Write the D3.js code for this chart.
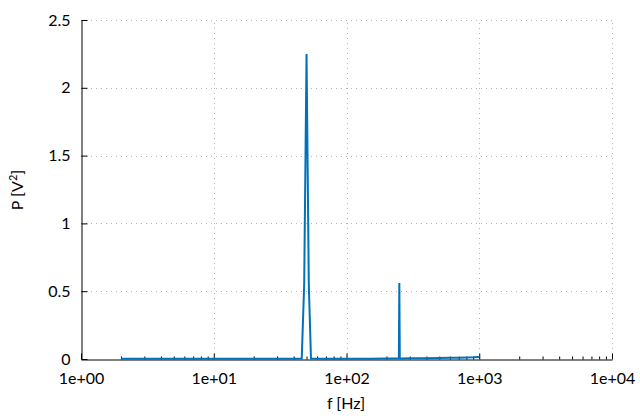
<!DOCTYPE html>
<html>
<head>
<meta charset="utf-8">
<script src="https://cdn.jsdelivr.net/npm/d3@7"></script>
<style>
  body { margin: 0; background: #fff; }
  svg { display: block; }
  text { font-family: Lato, "Open Sans", sans-serif; fill: #000; }
</style>
</head>
<body>
<svg id="chart" width="640" height="420"></svg>
<script>
// Data
const freq  = [2, 5, 10, 20, 30, 40, 46, 48, 50, 52, 54, 70, 100, 150, 200, 240, 248, 250, 252, 260, 300, 400, 500, 600, 700, 800, 900, 1000];
const power = [0.002, 0.001, 0.001, 0.001, 0.001, 0.002, 0.004, 0.55, 2.25, 0.55, 0.004, 0.002, 0.002, 0.002, 0.003, 0.003, 0.004, 0.56, 0.004, 0.004, 0.005, 0.006, 0.008, 0.009, 0.010, 0.011, 0.012, 0.014];
const xTickValues = [1, 10, 100, 1000, 10000];
const xTickLabels = ["1e+00", "1e+01", "1e+02", "1e+03", "1e+04"];
const yTickValues = [0, 0.5, 1, 1.5, 2, 2.5];
const yTickLabels = ["0", "0.5", "1", "1.5", "2", "2.5"];
const xLabel = "f [Hz]";

const svg = d3.select("#chart");
const m = {left: 81, right: 612, top: 20, bottom: 359};

const x = d3.scaleLog().domain([1, 10000]).range([m.left, m.right]);
const y = d3.scaleLinear().domain([0, 2.5]).range([m.bottom, m.top]);

// grid
const grid = svg.append("g").attr("stroke", "#b4b4b4").attr("stroke-width", 1).attr("stroke-dasharray", "1,4");
yTickValues.slice(1).forEach(v => {
  grid.append("line").attr("x1", m.left).attr("x2", m.right)
    .attr("y1", Math.round(y(v)) + 0.5).attr("y2", Math.round(y(v)) + 0.5);
});
xTickValues.slice(1).forEach(v => {
  grid.append("line").attr("y1", m.bottom).attr("y2", m.top)
    .attr("x1", Math.round(x(v)) + 0.5).attr("x2", Math.round(x(v)) + 0.5);
});

// minor x ticks
const minor = [];
for (let d = 1; d < 10000; d *= 10) for (let k = 2; k <= 9; k++) minor.push(d * k);

// axes
const xAxis = d3.axisBottom(x).tickValues(xTickValues)
  .tickFormat((d, i) => xTickLabels[i]).tickSizeInner(-6).tickSizeOuter(0).tickPadding(13);
const gx = svg.append("g").attr("transform", `translate(0,${m.bottom + 0.5})`).call(xAxis);
gx.selectAll("text").attr("font-size", 16);

const gxm = svg.append("g").attr("transform", `translate(0,${m.bottom + 0.5})`)
  .call(d3.axisBottom(x).tickValues(minor).tickFormat("").tickSizeInner(-3).tickSizeOuter(0));
gxm.select(".domain").remove();

const yAxis = d3.axisLeft(y).tickValues(yTickValues)
  .tickFormat((d, i) => yTickLabels[i]).tickSizeInner(-6).tickSizeOuter(0).tickPadding(11);
const gy = svg.append("g").attr("transform", `translate(${m.left + 0.5},0)`).call(yAxis);
gy.selectAll("text").attr("font-size", 16);

[gx, gy, gxm].forEach(g => g.selectAll("line, path").attr("stroke", "#000").attr("stroke-width", 1));

// line
const line = d3.line().x((d, i) => x(freq[i])).y(d => y(d));
svg.append("path").datum(power)
  .attr("d", line).attr("fill", "none")
  .attr("stroke", "#0072bd").attr("stroke-width", 2).attr("stroke-linejoin", "miter");

// labels
svg.append("text").attr("x", 346).attr("y", 409).attr("text-anchor", "middle")
  .attr("font-size", 16).text(xLabel);

const yl = svg.append("text").attr("transform", "translate(23,190) rotate(-90)")
  .attr("text-anchor", "middle").attr("font-size", 16);
yl.append("tspan").text("P [V");
yl.append("tspan").attr("font-size", 11).attr("dy", -6).text("2");
yl.append("tspan").attr("dy", 6).text("]");
</script>
</body>
</html>
